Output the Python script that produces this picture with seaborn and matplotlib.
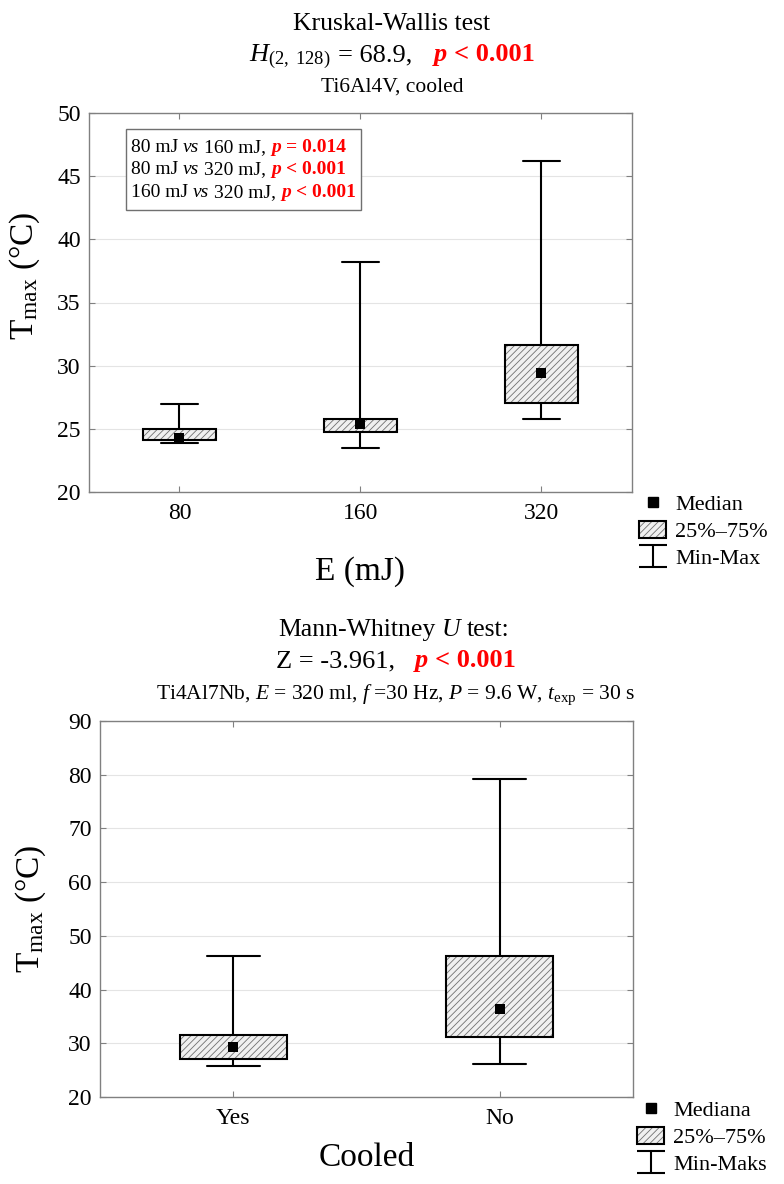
import numpy as np
import pandas as pd
import matplotlib
matplotlib.use("Agg")
import matplotlib.pyplot as plt
import matplotlib.patches as mpatches
from matplotlib.lines import Line2D
from matplotlib.path import Path
from matplotlib.transforms import IdentityTransform
from matplotlib.legend_handler import HandlerTuple
import seaborn as sns

# Ti6Al4V, cooled - pulse energy groups
energy = ["80", "160", "320"]
e_min = [23.9, 23.5, 25.8]
e_q1 = [24.15, 24.75, 27.05]
e_med = [24.25, 25.35, 29.4]
e_q3 = [25.0, 25.8, 31.6]
e_max = [27.0, 38.2, 46.2]

# Ti4Al7Nb, 320 mJ - cooled or not
cooled = ["Yes", "No"]
c_min = [25.8, 26.1]
c_q1 = [27.05, 31.2]
c_med = [29.4, 36.3]
c_q3 = [31.6, 46.3]
c_max = [46.2, 79.2]

W, H = 784, 1184
BOX_FACE = "#f0f0f0"
HATCH = "#707070"
RED = "#ff0000"

sns.set_theme(style="white")
plt.rcParams["font.family"] = ["Liberation Serif", "DejaVu Serif"]
plt.rcParams["mathtext.fontset"] = "custom"
plt.rcParams["mathtext.rm"] = "Liberation Serif"
plt.rcParams["mathtext.it"] = "Liberation Serif:italic"
plt.rcParams["mathtext.bf"] = "Liberation Serif:bold"
plt.rcParams["hatch.linewidth"] = 0.6
plt.rcParams["text.color"] = "black"
plt.rcParams["axes.labelcolor"] = "black"

fig = plt.figure(figsize=(W / 100, H / 100), dpi=100)
renderer = fig.canvas.get_renderer()


def px(pt):
    return pt * 100 / 72


def rich(pieces, x, y, ha="center"):
    # pieces: (text, fontsize, extra kw, gap after in px); x, y = pixels from top-left, y is baseline
    arts, widths = [], []
    for s, fs, kw, gap in pieces:
        t = fig.text(0, 0, s, transform=IdentityTransform(), va="baseline", ha="left",
                     fontsize=fs, **kw)
        arts.append(t)
        widths.append(t.get_window_extent(renderer).width + gap)
    total = sum(widths)
    x0 = x - total / 2 if ha == "center" else x
    for t, w in zip(arts, widths):
        t.set_position((x0, H - y))
        x0 += w
    return x0


def five_numbers(cats, mins, q1s, meds, q3s, maxs):
    rows = []
    for c, a, b, m, d, e in zip(cats, mins, q1s, meds, q3s, maxs):
        for v in (a, b, m, d, e):
            rows.append({"grp": c, "T": v})
    return pd.DataFrame(rows)


def panel(rect, cats, mins, q1s, meds, q3s, maxs, ylim, ystep, xlabel, xlab_y, ylab_xy):
    ax = fig.add_axes(rect)
    df = five_numbers(cats, mins, q1s, meds, q3s, maxs)
    sns.boxplot(data=df, x="grp", y="T", order=cats, width=0.4, whis=(0, 100),
                color=BOX_FACE, saturation=1, linecolor="black", linewidth=1.5,
                medianprops={"visible": False}, ax=ax)
    for p in list(ax.patches):
        p.set_edgecolor(HATCH)
        p.set_hatch("/////")
        p.set_linewidth(0)
        ax.add_patch(mpatches.PathPatch(p.get_path(), transform=p.get_transform(),
                                        facecolor="none", edgecolor="black", linewidth=1.5,
                                        zorder=p.get_zorder() + 0.1))
    sns.stripplot(x=cats, y=meds, order=cats, jitter=False, marker="s", size=6.5,
                  color="black", linewidth=0, ax=ax, zorder=6)
    ax.set_xlim(-0.5, len(cats) - 0.5)
    ax.set_ylim(*ylim)
    ax.set_yticks(np.arange(ylim[0], ylim[1] + 1, ystep))
    ax.grid(axis="y", color="#e4e4e4", linewidth=0.8)
    ax.set_axisbelow(True)
    for s in ax.spines.values():
        s.set_color("#808080")
        s.set_linewidth(1.0)
    ax.tick_params(direction="in", length=4, width=0.8, color="#808080",
                   bottom=True, left=True, top=True, right=True,
                   labelsize=17, labelcolor="black")
    ax.tick_params(axis="x", pad=8)
    ax.tick_params(axis="y", pad=6)
    ax.set_xlabel(xlabel, fontsize=24, color="black")
    ax.set_ylabel(r"T$_{\rm max}$ (°C)", fontsize=24, color="black")
    ax.xaxis.set_label_coords(0.5, xlab_y)
    ax.yaxis.set_label_coords(*ylab_xy)
    return ax


ax1 = panel([89 / W, 1 - 492 / H, 543 / W, 379 / H], energy, e_min, e_q1, e_med, e_q3, e_max,
            (20, 50), 5, "E (mJ)", -0.17, (-0.086, 0.57))
ax2 = panel([100 / W, 1 - 1097 / H, 533 / W, 376 / H], cooled, c_min, c_q1, c_med, c_q3, c_max,
            (20, 90), 10, "Cooled", -0.12, (-0.097, 0.5))

# titles
big, stat, sub = 18.5, 19, 15.5
rich([("Kruskal-Wallis test", big, {}, 0)], 392, 30)
rich([(r"$H_{(2,\ 128)}$", stat, {}, px(stat) * 0.25),
      ("= 68.9,", stat, {}, 22),
      ("p", stat, dict(color=RED, fontweight="bold", fontstyle="italic"), px(stat) * 0.25),
      ("< 0.001", stat, dict(color=RED, fontweight="bold"), 0)], 392, 61)
rich([("Ti6Al4V, cooled", sub, {}, 0)], 392, 92)

rich([("Mann-Whitney", big, {}, px(big) * 0.25),
      ("U", big, dict(fontstyle="italic"), px(big) * 0.25),
      ("test:", big, {}, 0)], 394, 636)
rich([("Z = -3.961,", stat, {}, 20),
      ("p", stat, dict(color=RED, fontweight="bold", fontstyle="italic"), px(stat) * 0.25),
      ("< 0.001", stat, dict(color=RED, fontweight="bold"), 0)], 396, 667)
rich([(r"Ti4Al7Nb, $\it{E}$ = 320 ml, $\it{f}$ =30 Hz, $\it{P}$ = 9.6 W, $\it{t}_{\rm exp}$ = 30 s",
       sub, {}, 0)], 396, 699)

# pairwise comparisons box
fs = 14
sp = px(fs) * 0.25
red_b = dict(color=RED, fontweight="bold")
red_bi = dict(color=RED, fontweight="bold", fontstyle="italic")
pairs = [("80 mJ", "160 mJ,", "= 0.014"), ("80 mJ", "320 mJ,", "< 0.001"),
         ("160 mJ", "320 mJ,", "< 0.001")]
right = 0
for i, (a, b, pv) in enumerate(pairs):
    end = rich([(a, fs, {}, sp), ("vs", fs, dict(fontstyle="italic"), sp), (b, fs, {}, sp),
                ("p", fs, red_bi, sp), (pv, fs, red_b, 0)], 131, 152 + i * 22.5, ha="left")
    right = max(right, end)
fig.add_artist(mpatches.Rectangle((126, H - 210), right + 6 - 126, 81, transform=IdentityTransform(),
                                  facecolor="white", edgecolor="#707070", linewidth=1.0, zorder=2))

# legends
ibeam = Path([(-1, 0.78), (1, 0.78), (0, 0.78), (0, -0.78), (-1, -0.78), (1, -0.78)],
             [Path.MOVETO, Path.LINETO, Path.MOVETO, Path.LINETO, Path.MOVETO, Path.LINETO])


def legend(labels, x, y):
    handles = [Line2D([], [], marker="s", ms=6.5, color="black", ls="none"),
               (mpatches.Patch(facecolor=BOX_FACE, edgecolor=HATCH, hatch="/////", lw=0),
                mpatches.Patch(facecolor="none", edgecolor="black", lw=1.5)),
               Line2D([], [], marker=ibeam, ms=19.5, mew=1.5, mfc="none", color="black", ls="none")]
    fig.legend(handles, labels, loc="upper left", bbox_to_anchor=(x / W, 1 - y / H),
               frameon=False, fontsize=16, handlelength=1.22, handleheight=0.8,
               handletextpad=0.4, labelspacing=0.25, borderpad=0, borderaxespad=0,
               handler_map={tuple: HandlerTuple(ndivide=1, pad=0)})


legend(["Median", "25%–75%", "Min-Max"], 639, 494)
legend(["Mediana", "25%–75%", "Min-Maks"], 637, 1100)

fig.savefig("out.png", dpi=100)
